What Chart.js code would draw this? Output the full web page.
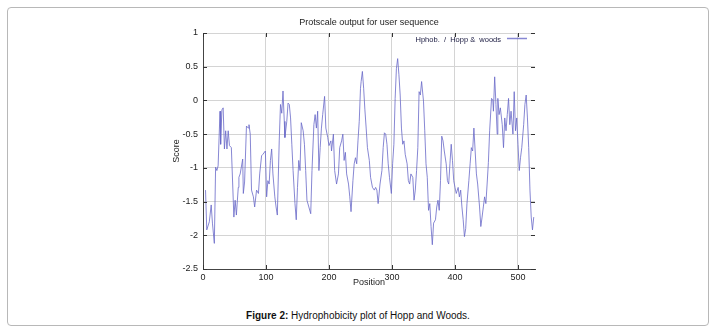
<!DOCTYPE html>
<html>
<head>
<meta charset="utf-8">
<script src="https://cdn.jsdelivr.net/npm/chart.js@4/dist/chart.umd.min.js"></script>
<style>
  html, body { margin: 0; padding: 0; background: #fff; width: 716px; height: 335px; overflow: hidden; }
  #frame { position: absolute; left: 7px; top: 7px; width: 702px; height: 319px; border: 1px solid #b8b8b8; border-radius: 4px; box-sizing: border-box; }
  #wrap { position: absolute; left: 150px; top: 0px; width: 400px; height: 300px; }
  #caption { position: absolute; left: 0; width: 716px; top: 310px; text-align: center; font: 10px "Liberation Sans", Arial, sans-serif; color: #111; }
</style>
</head>
<body>
<div id="frame"></div>
<div id="wrap"><canvas id="c" width="400" height="300"></canvas></div>
<div id="caption"><b>Figure 2:</b> Hydrophobicity plot of Hopp and Woods.</div>
<script>
const chartTitle = "Protscale output for user sequence";
const seriesLabel = "Hphob.  /  Hopp &  woods";
const xTitle = "Position";
const yTitle = "Score";
const xTicks = [0, 100, 200, 300, 400, 500];
const yTicks = [1, 0.5, 0, -0.5, -1, -1.5, -2, -2.5];

const positions = [
  4, 6, 10, 13, 15, 18, 20, 22, 24, 27,
  28, 30, 32, 34, 36, 38, 40, 42, 45, 47,
  49, 51, 53, 56, 57, 59, 63, 64, 66, 69,
  72, 73, 75, 77, 80, 82, 85, 88, 90, 93,
  95, 99, 101, 103, 105, 107, 109, 111, 114, 116,
  118, 121, 123, 125, 127, 129, 130, 133, 135, 137,
  139, 141, 143, 146, 148, 150, 152, 154, 156, 159,
  161, 163, 165, 168, 171, 173, 176, 178, 180, 182,
  184, 186, 188, 190, 193, 195, 198, 200, 203, 204,
  207, 209, 212, 215, 217, 220, 222, 224, 226, 228,
  231, 233, 235, 238, 240, 242, 244, 246, 248, 250,
  251, 253, 255, 257, 259, 261, 264, 266, 269, 272,
  274, 276, 278, 281, 284, 286, 288, 290, 292, 294,
  296, 299, 301, 303, 305, 307, 309, 311, 313, 315,
  317, 319, 321, 324, 326, 328, 330, 333, 335, 337,
  339, 341, 343, 345, 347, 350, 352, 354, 356, 358,
  360, 362, 364, 366, 369, 371, 373, 375, 377, 379,
  381, 383, 386, 388, 390, 392, 394, 396, 398, 400,
  402, 405, 407, 409, 411, 413, 415, 417, 419, 422,
  424, 426, 428, 430, 432, 434, 436, 439, 441, 443,
  445, 447, 449, 451, 453, 455, 458, 460, 461, 463,
  465, 467, 468, 470, 472, 475, 477, 479, 481, 483,
  485, 487, 489, 492, 494, 496, 498, 500, 502, 504,
  506, 509, 511, 513, 515, 517, 519, 521, 523, 525
];

const scores = [
  -1.33, -1.92, -1.80, -1.55, -1.82, -2.12, -0.99, -1.04, -0.97, -0.16,
  -0.65, -0.14, -0.11, -0.72, -0.45, -0.72, -0.45, -0.67, -0.70, -1.21,
  -1.73, -1.48, -1.70, -1.29, -1.14, -1.09, -0.87, -1.38, -1.21, -0.38,
  -0.41, -0.36, -0.50, -1.33, -1.43, -1.58, -1.33, -1.38, -1.09, -0.82,
  -0.80, -0.75, -1.43, -1.19, -1.24, -0.89, -0.72, -1.09, -1.43, -1.58,
  -1.70, -0.60, -0.06, -0.19, 0.14, -0.31, -0.55, -0.31, -0.04, -0.06,
  -0.26, -0.65, -1.04, -1.53, -1.77, -1.29, -0.89, -1.04, -0.33, -0.45,
  -0.65, -1.04, -1.48, -1.58, -1.68, -1.04, -0.36, -0.21, -0.41, -0.16,
  -1.04, -0.70, -0.41, -0.21, 0.06, -0.41, -0.55, -0.67, -0.60, -0.75,
  -0.50, -1.04, -1.24, -1.09, -0.70, -0.60, -0.50, -0.89, -0.77, -1.09,
  -1.24, -1.43, -1.65, -1.19, -0.94, -0.85, -0.94, -0.60, -0.31, 0.18,
  0.28, 0.43, 0.18, -0.14, -0.41, -0.70, -0.89, -1.14, -1.29, -1.33,
  -1.29, -1.33, -1.53, -1.24, -1.04, -0.70, -0.48, -0.50, -0.65, -0.94,
  -1.14, -1.38, -0.94, -0.65, 0.03, 0.47, 0.62, 0.38, 0.08, -0.41,
  -0.65, -0.60, -0.80, -0.94, -1.19, -1.24, -1.09, -1.14, -1.48, -1.33,
  -1.04, -0.70, 0.13, 0.08, 0.28, -0.01, -0.45, -0.94, -1.14, -1.63,
  -1.53, -1.87, -2.14, -1.82, -1.77, -1.58, -1.48, -1.63, -1.19, -0.53,
  -0.60, -0.75, -0.94, -1.19, -1.24, -0.94, -0.65, -0.89, -1.19, -1.29,
  -1.38, -1.29, -1.43, -1.33, -1.58, -1.77, -2.02, -1.90, -1.53, -1.19,
  -0.94, -0.70, -0.75, -0.41, -0.75, -1.09, -1.24, -1.58, -1.87, -1.73,
  -1.58, -1.43, -1.53, -1.24, -0.92, -0.45, 0.03, 0.01, -0.16, 0.35,
  -0.06, -0.50, 0.03, -0.21, -0.11, -0.36, -0.70, -0.26, -0.45, -0.21,
  0.03, -0.36, -0.16, -0.50, 0.13, -0.45, -0.26, -0.65, -1.04, -0.85,
  -0.70, -0.36, -0.06, 0.08, -0.26, -0.70, -1.33, -1.73, -1.92, -1.73
];

const FONT = '"Liberation Sans", Arial, sans-serif';
const LINE_COLOR = 'rgba(105,105,200,0.8)';

const decor = {
  id: 'decor',
  afterDraw(chart) {
    const { ctx, chartArea: a, scales: { x, y } } = chart;
    ctx.save();
    ctx.strokeStyle = '#333';
    ctx.lineWidth = 1;
    const seg = (x1, y1, x2, y2) => { ctx.beginPath(); ctx.moveTo(x1, y1); ctx.lineTo(x2, y2); ctx.stroke(); };
    xTicks.forEach(v => {
      const px = Math.round(x.getPixelForValue(v)) + 0.5;
      seg(px, a.top, px, a.top + 4);
      seg(px, a.bottom, px, a.bottom - 4);
    });
    yTicks.forEach(v => {
      const py = Math.round(y.getPixelForValue(v)) + 0.5;
      seg(a.left, py, a.left + 4, py);
      seg(a.right, py, a.right - 4, py);
    });
    // chart title, centred over the plot area
    ctx.font = '9px ' + FONT;
    ctx.fillStyle = '#222';
    ctx.textAlign = 'center';
    ctx.textBaseline = 'middle';
    ctx.fillText(chartTitle, (a.left + a.right) / 2, a.top - 10.5);
    // legend
    ctx.font = '7.5px ' + FONT;
    ctx.fillStyle = '#1a1a40';
    ctx.textAlign = 'right';
    ctx.fillText(chart.data.datasets[0].label, a.right - 34, a.top + 7);
    ctx.strokeStyle = LINE_COLOR;
    ctx.lineWidth = 1.5;
    seg(a.right - 28, a.top + 5.5, a.right - 8, a.top + 5.5);
    ctx.restore();
  }
};

new Chart(document.getElementById('c'), {
  type: 'line',
  data: {
    datasets: [{
      label: seriesLabel,
      data: positions.map((p, i) => ({ x: p, y: scores[i] })),
      borderColor: LINE_COLOR,
      borderWidth: 1,
      pointRadius: 0,
      tension: 0,
      fill: false
    }]
  },
  options: {
    responsive: false,
    animation: false,
    layout: { padding: { left: 0, right: 15, top: 33, bottom: 11 } },
    plugins: {
      legend: { display: false },
      tooltip: { enabled: false },
      title: { display: false }
    },
    scales: {
      x: {
        type: 'linear',
        min: 0,
        max: 527,
        afterBuildTicks(scale) { scale.ticks = xTicks.map(v => ({ value: v })); },
        afterFit(scale) { scale.height = 20; },
        ticks: { color: '#222', font: { family: FONT, size: 9 }, padding: 3, maxRotation: 0, autoSkip: false, callback: v => String(v) },
        grid: { color: '#d4d4d4', lineWidth: 1, drawTicks: false },
        border: { color: '#444', width: 1 },
        title: { display: true, text: xTitle, color: '#222', font: { family: FONT, size: 9 }, padding: { top: 0, bottom: 0.6 } }
      },
      y: {
        type: 'linear',
        min: -2.5,
        max: 1,
        afterBuildTicks(scale) { scale.ticks = yTicks.slice().reverse().map(v => ({ value: v })); },
        afterFit(scale) { scale.width = 53; },
        ticks: { color: '#222', font: { family: FONT, size: 9 }, padding: 5, autoSkip: false, callback: v => String(v) },
        grid: { color: '#d4d4d4', lineWidth: 1, drawTicks: false },
        border: { color: '#444', width: 1 },
        title: { display: true, text: yTitle, color: '#222', font: { family: FONT, size: 9 }, padding: { top: 21.6, bottom: 0 } }
      }
    }
  },
  plugins: [decor]
});
</script>
</body>
</html>
